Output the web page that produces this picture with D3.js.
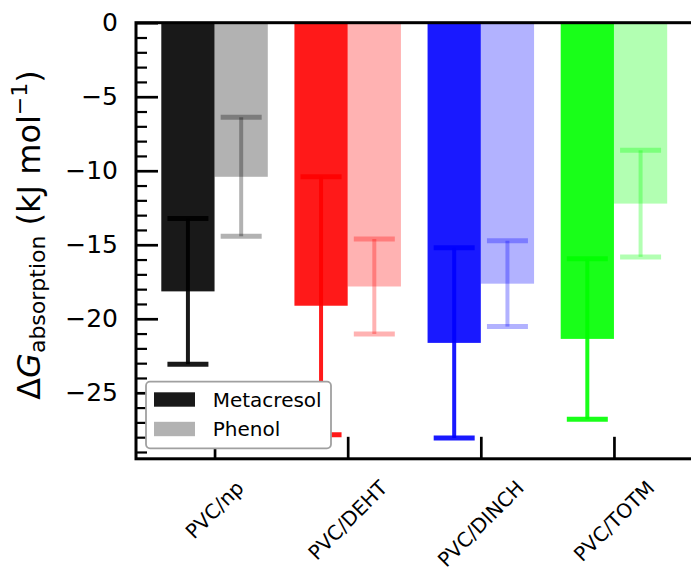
<!DOCTYPE html>
<html>
<head>
<meta charset="utf-8">
<script src="https://cdn.jsdelivr.net/npm/d3@7"></script>
<style>
body { margin: 0; background: #fff; }
text { font-family: "DejaVu Sans", sans-serif; fill: #000; }
</style>
</head>
<body>
<div id="chart"></div>
<script>
// Data
var categories = ["PVC/np", "PVC/DEHT", "PVC/DINCH", "PVC/TOTM"];
var metacresol = [-18.15, -19.12, -21.63, -21.36];
var metacresolErr = [4.92, 8.72, 6.42, 5.42];
var phenol = [-10.41, -17.82, -17.63, -12.22];
var phenolErr = [4.02, 3.21, 2.9, 3.6];
var yTicks = [0, -5, -10, -15, -20, -25];
var seriesNames = ["Metacresol", "Phenol"];

// one base colour per category, dark series at 0.9 alpha, light at 0.3
var baseColors = ["#000000", "#ff0000", "#0000ff", "#00ff00"];

var W = 691, H = 569;
var plot = { left: 136, right: 692.5, top: 22.7, bottom: 458.8 };

var svg = d3.select("#chart").append("svg")
    .attr("width", W)
    .attr("height", H);

// Scales
var x = d3.scaleLinear().domain([-0.59, 3.59]).range([plot.left, plot.right]);
var y = d3.scaleLinear().domain([-29.46, 0]).range([plot.bottom, plot.top]);
var barW = 0.4;

var series = [
    { name: seriesNames[0], values: metacresol, errs: metacresolErr, offset: -barW, alpha: 0.9 },
    { name: seriesNames[1], values: phenol, errs: phenolErr, offset: 0, alpha: 0.3 }
];

// Bars + error bars
series.forEach(function(s) {
    var g = svg.append("g");
    s.values.forEach(function(v, i) {
        var col = baseColors[i];
        g.append("rect")
            .attr("x", x(i + s.offset))
            .attr("width", x(barW) - x(0))
            .attr("y", y(0))
            .attr("height", y(v) - y(0))
            .attr("fill", col)
            .attr("fill-opacity", s.alpha);

        var cx = x(i + s.offset + barW / 2);
        var lo = v - s.errs[i], hi = v + s.errs[i];
        g.append("line")
            .attr("x1", cx).attr("x2", cx)
            .attr("y1", y(hi)).attr("y2", y(lo))
            .attr("stroke", col).attr("stroke-opacity", s.alpha)
            .attr("stroke-width", 4);
        [lo, hi].forEach(function(e) {
            g.append("line")
                .attr("x1", cx - 20.5).attr("x2", cx + 20.5)
                .attr("y1", y(e)).attr("y2", y(e))
                .attr("stroke", col).attr("stroke-opacity", s.alpha)
                .attr("stroke-width", 5);
        });
    });
});

// Y axis (ticks pointing inward)
var yAxis = svg.append("g")
    .attr("transform", "translate(" + plot.left + ",0)")
    .call(d3.axisLeft(y).tickValues(yTicks).tickSize(-22).tickPadding(18));
yAxis.select(".domain").remove();
yAxis.selectAll(".tick line").attr("stroke", "#000").attr("stroke-width", 2.7);
yAxis.selectAll(".tick text").style("font-size", "25px").attr("font-family", null);

var minorTicks = d3.range(-29, 0).filter(function(d) { return d % 5 !== 0; });
var yMinor = svg.append("g")
    .attr("transform", "translate(" + plot.left + ",0)")
    .call(d3.axisLeft(y).tickValues(minorTicks).tickSize(-11).tickFormat(""));
yMinor.select(".domain").remove();
yMinor.selectAll(".tick line").attr("stroke", "#000").attr("stroke-width", 2.2);

// X axis
var xAxis = svg.append("g")
    .attr("transform", "translate(0," + plot.bottom + ")")
    .call(d3.axisBottom(x).tickValues(d3.range(categories.length)).tickSize(-22).tickFormat(""));
xAxis.select(".domain").remove();
xAxis.selectAll(".tick line").attr("stroke", "#000").attr("stroke-width", 2.7);

// Rotated category labels, bbox centred on tick
categories.forEach(function(c, i) {
    var g = svg.append("g");
    var t = g.append("text")
        .attr("text-anchor", "middle")
        .attr("dominant-baseline", "central")
        .style("font-size", "20px")
        .text(c);
    var w = t.node().getComputedTextLength();
    var h = 20 * 1.164;
    var cy = 476 + (w + h) * Math.SQRT1_2 / 2;
    g.attr("transform", "translate(" + x(i) + "," + cy + ") rotate(-45)");
});

// Spines
var sp = svg.append("g").attr("stroke", "#000").attr("stroke-width", 3).attr("fill", "none");
sp.append("rect")
    .attr("x", plot.left).attr("y", plot.top)
    .attr("width", plot.right - plot.left)
    .attr("height", plot.bottom - plot.top);

// Y label
var yl = svg.append("text")
    .attr("transform", "translate(40,235) rotate(-90)")
    .attr("text-anchor", "middle")
    .style("font-size", "32px")
    .style("white-space", "pre");
yl.append("tspan").text("\u0394");
yl.append("tspan").style("font-style", "italic").text("G");
yl.append("tspan").attr("dy", 5).style("font-size", "22px").text("absorption");
yl.append("tspan").attr("dy", -5).text(" (kJ mol");
yl.append("tspan").attr("dy", -13).style("font-size", "22px").text("\u22121");
yl.append("tspan").attr("dy", 13).text(")");

// Legend
var lg = svg.append("g").attr("transform", "translate(146,381.7)");
lg.append("rect")
    .attr("width", 185).attr("height", 66.6)
    .attr("rx", 4)
    .attr("fill", "#fff")
    .attr("stroke", "#a0a0a0")
    .attr("stroke-width", 1.8);
series.forEach(function(s, i) {
    var row = lg.append("g").attr("transform", "translate(0," + (17.8 + i * 29.5) + ")");
    row.append("rect")
        .attr("x", 8).attr("y", -7.2)
        .attr("width", 41).attr("height", 14.4)
        .attr("fill", baseColors[0])
        .attr("fill-opacity", s.alpha);
    row.append("text")
        .attr("x", 66.7)
        .attr("dominant-baseline", "central")
        .style("font-size", "20px")
        .text(s.name);
});
</script>
</body>
</html>
